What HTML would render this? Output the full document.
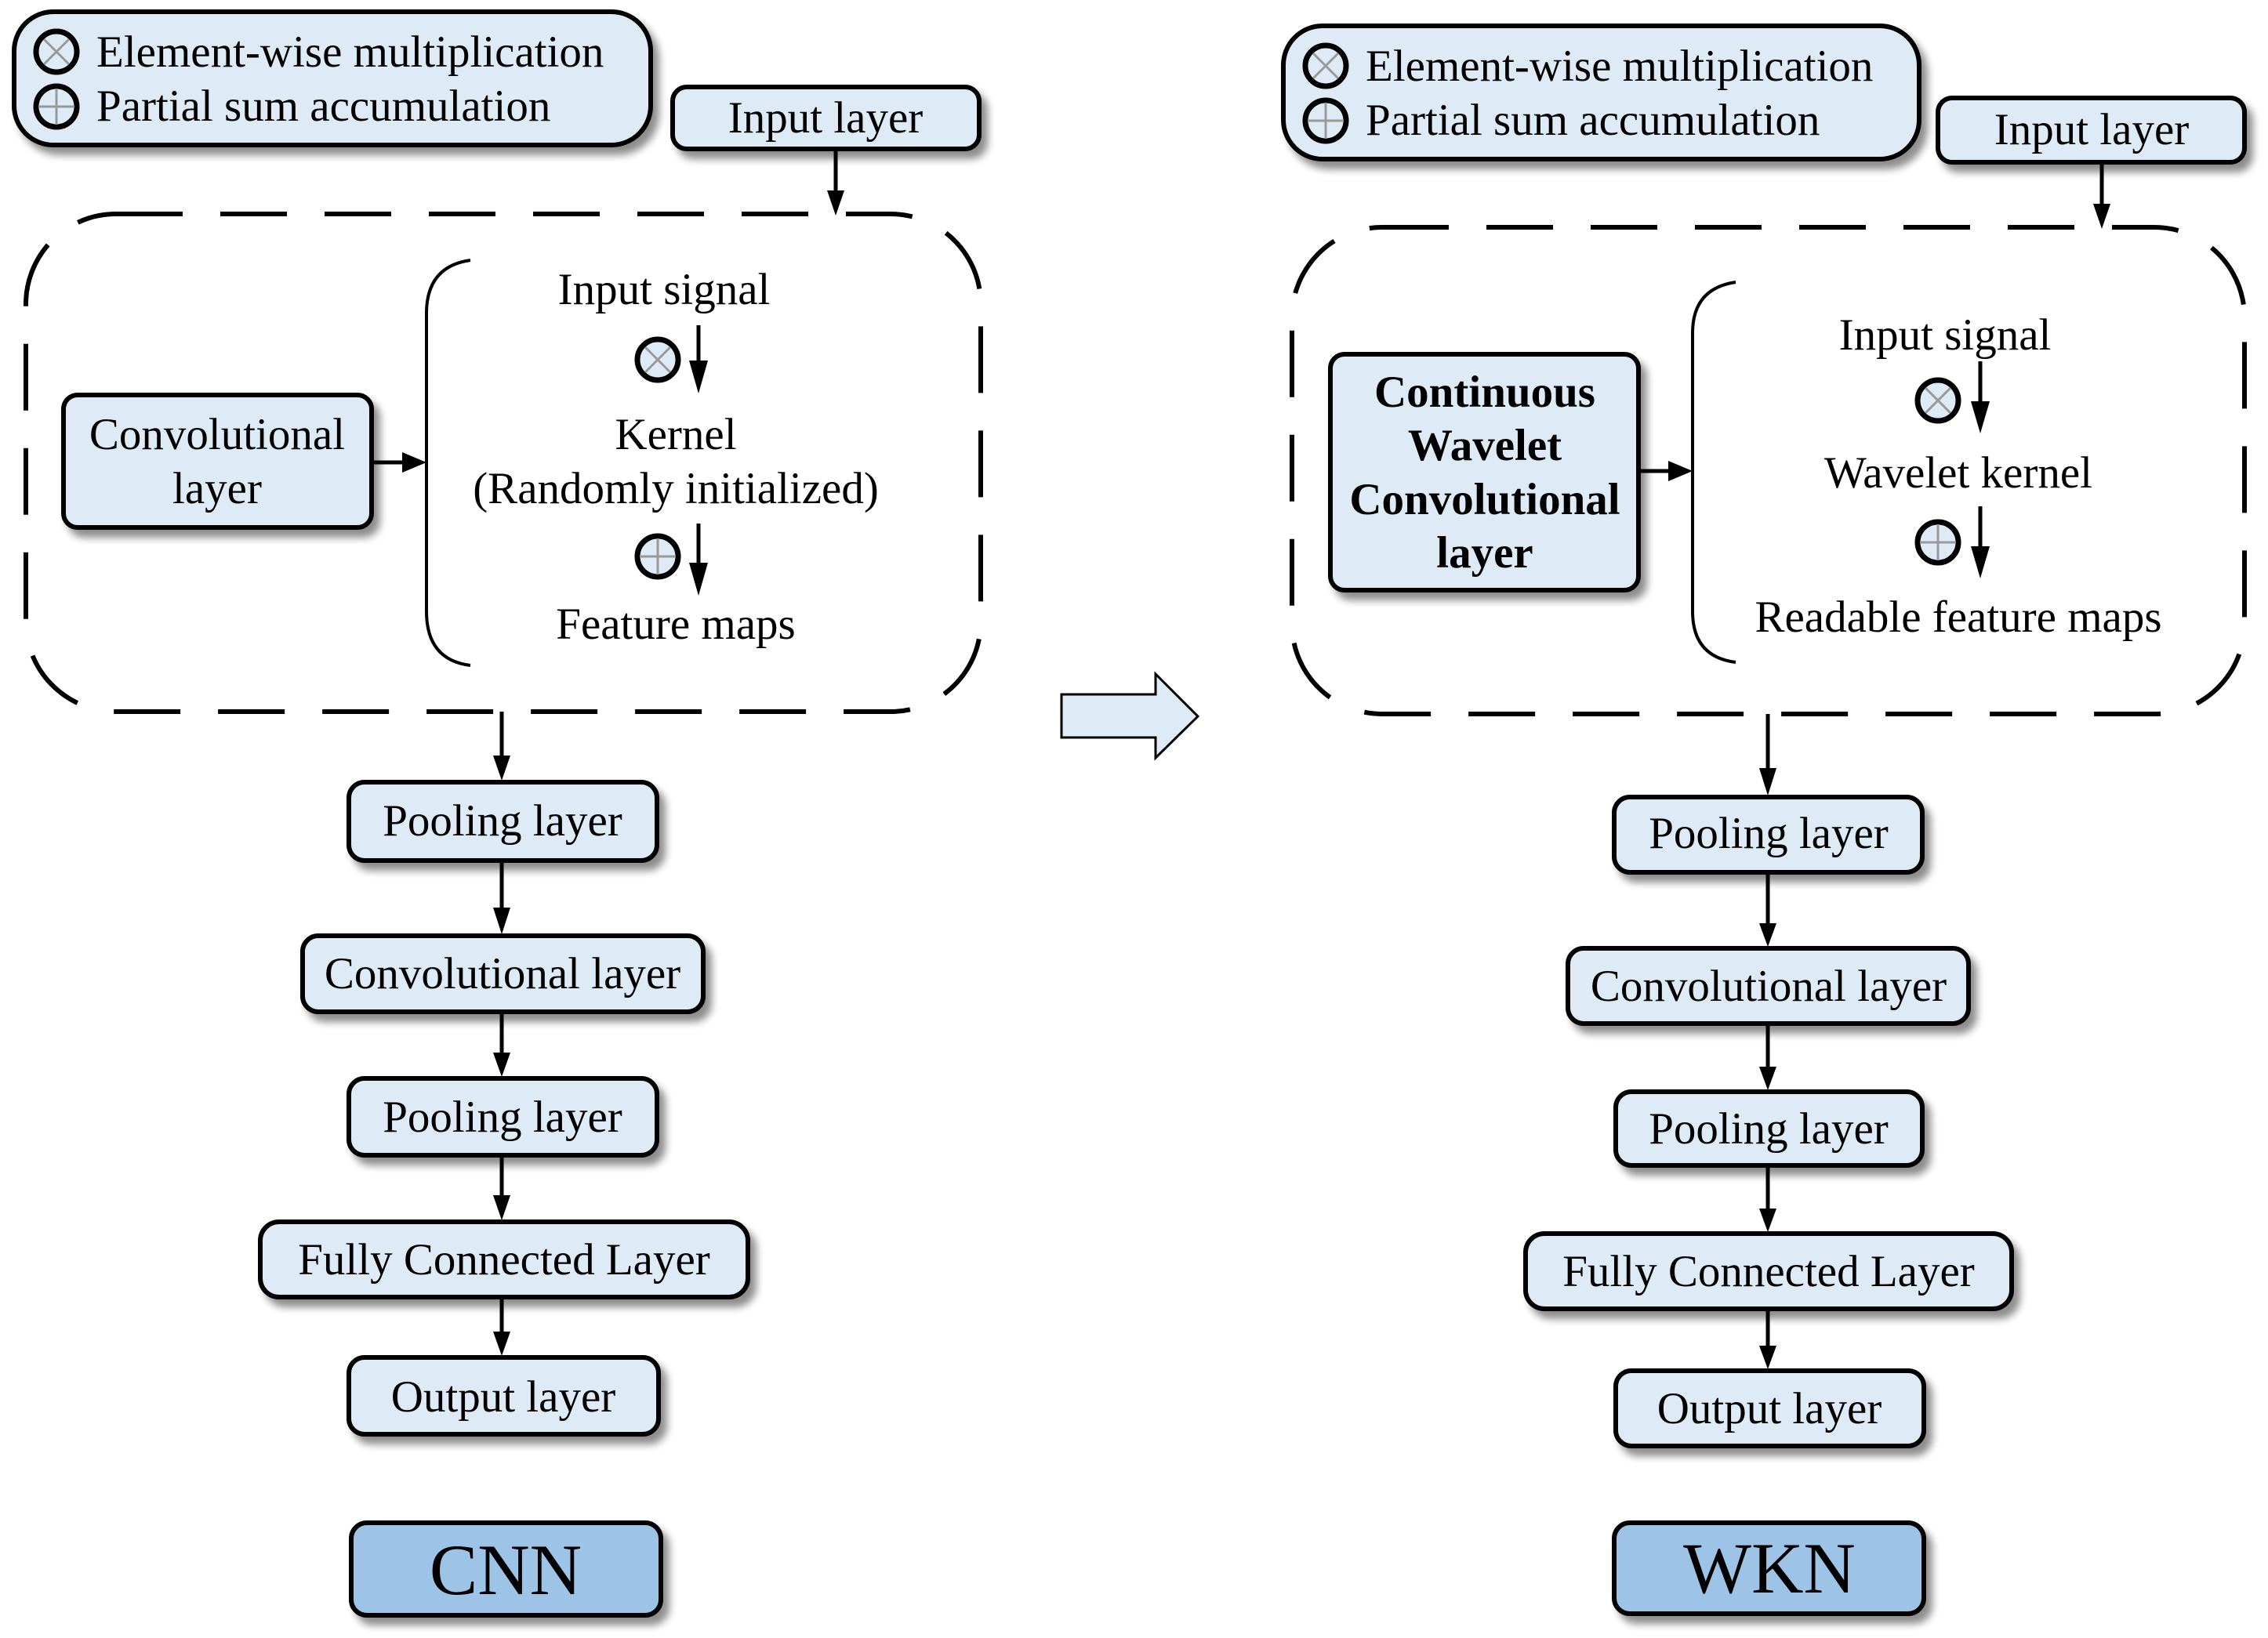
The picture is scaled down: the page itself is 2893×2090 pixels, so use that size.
<!DOCTYPE html>
<html><head><meta charset="utf-8"><style>
html,body{margin:0;padding:0;background:#fff;}
svg{display:block;}
text{font-family:"Liberation Serif",serif;fill:#000;}
</style></head><body>
<svg width="2893" height="2090" viewBox="0 0 2893 2090" xmlns="http://www.w3.org/2000/svg">
<defs>
<filter id="sh" x="-10%" y="-10%" width="130%" height="140%">
<feGaussianBlur in="SourceAlpha" stdDeviation="5"/>
<feOffset dx="8" dy="10" result="b"/>
<feComponentTransfer><feFuncA type="linear" slope="0.45"/></feComponentTransfer>
<feMerge><feMergeNode/><feMergeNode in="SourceGraphic"/></feMerge>
</filter>
<g id="xc"><circle r="26" fill="#deebf7" stroke="#000" stroke-width="7"/><path d="M-16,-16L16,16M16,-16L-16,16" stroke="#999" stroke-width="3"/></g>
<g id="pc"><circle r="26" fill="#deebf7" stroke="#000" stroke-width="7"/><path d="M0,-23V23M-23,0H23" stroke="#999" stroke-width="3"/></g>
</defs>

<g stroke="#000" stroke-width="6" fill="#deebf7" filter="url(#sh)">
<rect x="18" y="15" width="812" height="170" rx="50"/>
<rect x="858" y="111" width="391" height="79" rx="18"/>
<rect x="81" y="504" width="393" height="169" rx="18"/>
<rect x="445" y="998" width="393" height="100" rx="20"/>
<rect x="386" y="1194" width="511" height="97" rx="20"/>
<rect x="445" y="1376" width="393" height="98" rx="20"/>
<rect x="332" y="1559" width="622" height="96" rx="24"/>
<rect x="445" y="1732" width="395" height="98" rx="20"/>
<rect x="448" y="1943" width="395" height="118" rx="20" fill="#9dc3e6"/>
<rect x="1637" y="33" width="811" height="170" rx="50"/>
<rect x="2472" y="125" width="391" height="82" rx="18"/>
<rect x="1697" y="452" width="393" height="301" rx="18"/>
<rect x="2059" y="1017" width="393" height="96" rx="20"/>
<rect x="2000" y="1210" width="511" height="96" rx="20"/>
<rect x="2061" y="1393" width="391" height="94" rx="20"/>
<rect x="1946" y="1574" width="620" height="96" rx="24"/>
<rect x="2061" y="1749" width="393" height="96" rx="20"/>
<rect x="2059" y="1943" width="395" height="116" rx="20" fill="#9dc3e6"/>
</g>

<g fill="none" stroke="#000" stroke-width="6" stroke-dasharray="85,48">
<rect x="33" y="273" width="1218" height="635" rx="115"/>
<rect x="1648" y="290" width="1215" height="621" rx="115"/>
</g>
<g fill="none" stroke="#000" stroke-width="4">
<path d="M600,332 Q544,340 544,400 V780 Q544,842 600,849"/>
<path d="M2214,360 Q2159,368 2159,425 V780 Q2159,838 2214,845"/>
</g>

<g stroke="#000" stroke-width="5">
<line x1="1066" y1="190" x2="1066" y2="245"/>
<line x1="474" y1="590" x2="515" y2="590"/>
<line x1="891" y1="415" x2="891" y2="470"/>
<line x1="891" y1="668" x2="891" y2="728"/>
<line x1="640" y1="908" x2="640" y2="966"/>
<line x1="640" y1="1098" x2="640" y2="1160"/>
<line x1="640" y1="1291" x2="640" y2="1345"/>
<line x1="640" y1="1474" x2="640" y2="1527"/>
<line x1="640" y1="1655" x2="640" y2="1701"/>
<line x1="2681" y1="207" x2="2681" y2="262"/>
<line x1="2090" y1="601" x2="2130" y2="601"/>
<line x1="2526" y1="461" x2="2526" y2="522"/>
<line x1="2526" y1="646" x2="2526" y2="707"/>
<line x1="2255" y1="911" x2="2255" y2="982"/>
<line x1="2255" y1="1113" x2="2255" y2="1180"/>
<line x1="2255" y1="1306" x2="2255" y2="1363"/>
<line x1="2255" y1="1487" x2="2255" y2="1544"/>
<line x1="2255" y1="1670" x2="2255" y2="1719"/>
</g>
<g fill="#000">
<path d="M1055,243 L1077,243 L1066,275Z"/>
<path d="M513,577 L513,603 L544,590Z"/>
<path d="M879,460 L903,460 L891,502Z"/>
<path d="M879,718 L903,718 L891,760Z"/>
<path d="M629,964 L651,964 L640,996Z"/>
<path d="M629,1158 L651,1158 L640,1192Z"/>
<path d="M629,1343 L651,1343 L640,1374Z"/>
<path d="M629,1525 L651,1525 L640,1557Z"/>
<path d="M629,1699 L651,1699 L640,1730Z"/>
<path d="M2670,260 L2692,260 L2681,292Z"/>
<path d="M2128,588 L2128,614 L2159,601Z"/>
<path d="M2514,512 L2538,512 L2526,553Z"/>
<path d="M2514,697 L2538,697 L2526,738Z"/>
<path d="M2244,980 L2266,980 L2255,1015Z"/>
<path d="M2244,1178 L2266,1178 L2255,1208Z"/>
<path d="M2244,1361 L2266,1361 L2255,1391Z"/>
<path d="M2244,1542 L2266,1542 L2255,1572Z"/>
<path d="M2244,1717 L2266,1717 L2255,1747Z"/>
</g>

<path d="M1354,886 H1474 V860 L1528,914 L1474,967 V941 H1354Z" fill="#deebf7" stroke="#000" stroke-width="3"/>

<use href="#xc" x="72" y="66"/>
<use href="#pc" x="72" y="136"/>
<use href="#xc" x="1691" y="84"/>
<use href="#pc" x="1691" y="154"/>
<use href="#xc" x="839" y="459"/>
<use href="#pc" x="839" y="710"/>
<use href="#xc" x="2472" y="511"/>
<use href="#pc" x="2472" y="692"/>

<g font-size="57">
<text x="123" y="85">Element-wise multiplication</text>
<text x="123" y="154">Partial sum accumulation</text>
<text x="1742" y="103">Element-wise multiplication</text>
<text x="1742" y="172">Partial sum accumulation</text>
</g>
<g font-size="57" text-anchor="middle">
<text x="1053" y="169">Input layer</text>
<text x="277" y="573">Convolutional</text>
<text x="277" y="642">layer</text>
<text x="847" y="388">Input signal</text>
<text x="862" y="573">Kernel</text>
<text x="862" y="642">(Randomly initialized)</text>
<text x="862" y="815">Feature maps</text>
<text x="641" y="1066">Pooling layer</text>
<text x="641" y="1261">Convolutional layer</text>
<text x="641" y="1444">Pooling layer</text>
<text x="643" y="1626">Fully Connected Layer</text>
<text x="642" y="1801">Output layer</text>
<text x="2668" y="184">Input layer</text>
<text x="2481" y="446">Input signal</text>
<text x="2498" y="622">Wavelet kernel</text>
<text x="2498" y="806">Readable feature maps</text>
<text x="2256" y="1082">Pooling layer</text>
<text x="2256" y="1277">Convolutional layer</text>
<text x="2256" y="1459">Pooling layer</text>
<text x="2256" y="1641">Fully Connected Layer</text>
<text x="2257" y="1816">Output layer</text>
</g>
<g font-size="57" font-weight="bold" text-anchor="middle">
<text x="1894" y="519">Continuous</text>
<text x="1894" y="587">Wavelet</text>
<text x="1894" y="656">Convolutional</text>
<text x="1894" y="724">layer</text>
</g>
<g font-size="92" text-anchor="middle">
<text x="645" y="2034">CNN</text>
<text x="2257" y="2032">WKN</text>
</g>
</svg>
</body></html>
